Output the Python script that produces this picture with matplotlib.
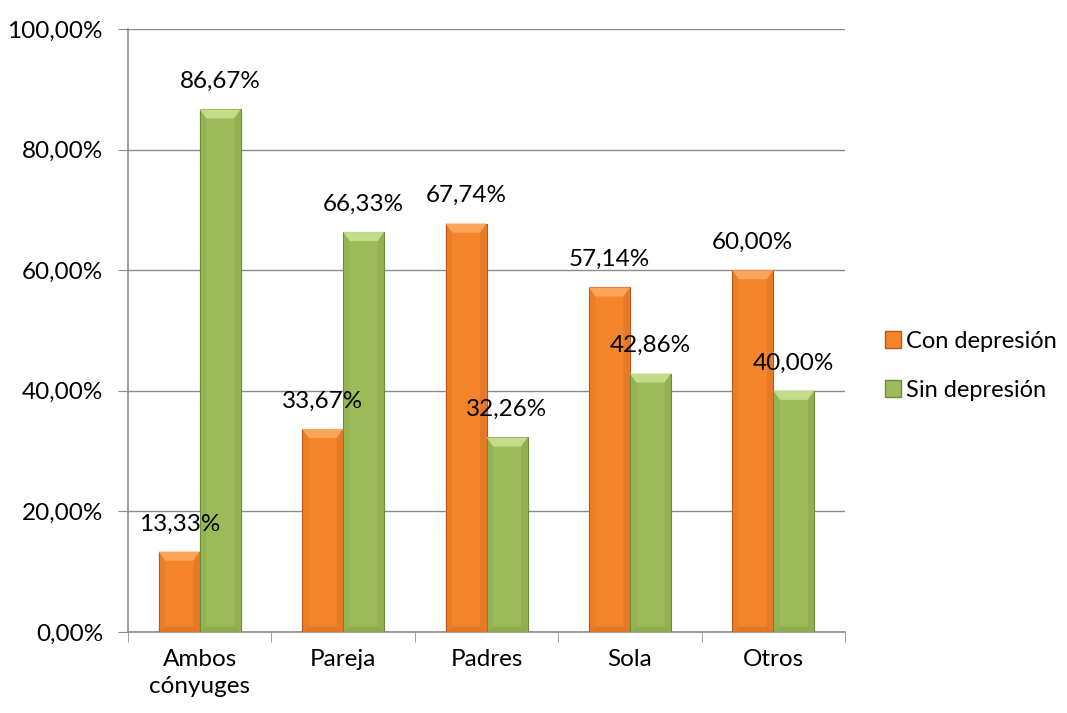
import matplotlib
matplotlib.use("Agg")
import matplotlib.pyplot as plt
import numpy as np
from matplotlib.patches import Polygon, Patch

categories = ["Ambos\ncónyuges", "Pareja", "Padres", "Sola", "Otros"]
con_depresion = [13.33, 33.67, 67.74, 57.14, 60.00]
sin_depresion = [86.67, 66.33, 32.26, 42.86, 40.00]
series_names = ["Con depresión", "Sin depresión"]
y_ticks = [0, 20, 40, 60, 80, 100]

plt.rcParams['font.family'] = ['Lato', 'DejaVu Sans']
FS = 17.5

fig = plt.figure(figsize=(10.67, 7.13), dpi=100)
ax = fig.add_axes([0.120, 0.1136, 0.672, 0.8457])

x = np.arange(len(categories))
w = 0.286
colors = [("#F4852A", "#B9571A", "#F9A65C"), ("#9BBB59", "#6E8B37", "#C4DC8A")]

for vals, offset, (fc, ec, hc) in zip([con_depresion, sin_depresion], [-w / 2, w / 2], colors):
    bars = ax.bar(x + offset, vals, width=w, color=fc, edgecolor=ec, linewidth=0.8, zorder=3)
    for b, v in zip(bars, vals):
        x0, x1 = b.get_x(), b.get_x() + b.get_width()
        top = b.get_height()
        bev_w = b.get_width() * 0.16
        bev_h = 1.5
        ax.add_patch(Polygon([[x0, top], [x1, top], [x1 - bev_w, top - bev_h], [x0 + bev_w, top - bev_h]],
                             closed=True, facecolor=hc, edgecolor='none', zorder=4))
        ax.add_patch(Polygon([[x0, 0], [x0, top], [x0 + bev_w, top - bev_h], [x0 + bev_w, bev_h * 0.6]],
                             closed=True, facecolor=ec, alpha=0.15, edgecolor='none', zorder=4))
        ax.add_patch(Polygon([[x1, 0], [x1, top], [x1 - bev_w, top - bev_h], [x1 - bev_w, bev_h * 0.6]],
                             closed=True, facecolor=ec, alpha=0.22, edgecolor='none', zorder=4))
        ax.add_patch(Polygon([[x0, 0], [x1, 0], [x1 - bev_w, bev_h * 0.6], [x0 + bev_w, bev_h * 0.6]],
                             closed=True, facecolor=ec, alpha=0.3, edgecolor='none', zorder=4))
        ax.annotate(f"{v:.2f}%".replace(".", ","), (b.get_x() + b.get_width() / 2, top),
                    xytext=(0, 20), textcoords="offset points", ha="center", va="center",
                    fontsize=FS, color="black", zorder=5)

ax.set_xlim(-0.5, len(categories) - 0.5)
ax.set_ylim(0, 100)
ax.set_yticks(y_ticks)
ax.set_yticklabels([f"{t:.2f}%".replace(".", ",") for t in y_ticks], fontsize=FS)
ax.yaxis.grid(True, color="#8C8C8C", linewidth=1.0, zorder=0)
ax.set_axisbelow(True)

ax.set_xticks(x)
ax.set_xticklabels(categories, fontsize=FS, linespacing=1.4)
ax.set_xticks(np.arange(len(categories) + 1) - 0.5, minor=True)
ax.tick_params(axis='x', which='major', length=0, pad=12)
ax.tick_params(axis='x', which='minor', length=7, color="#8C8C8C", direction='out')
ax.tick_params(axis='y', length=7, color="#8C8C8C", direction='out', pad=11)

for s in ["top", "right"]:
    ax.spines[s].set_visible(False)
for s in ["left", "bottom"]:
    ax.spines[s].set_color("#8C8C8C")
    ax.spines[s].set_linewidth(1.2)

handles = [Patch(facecolor=colors[0][0], edgecolor=colors[0][1]),
           Patch(facecolor=colors[1][0], edgecolor=colors[1][1])]
fig.legend(handles, series_names, loc="center left", bbox_to_anchor=(0.829, 0.487),
           frameon=False, fontsize=17, handlelength=0.7, handleheight=0.7,
           handletextpad=0.2, labelspacing=1.2, borderpad=0, borderaxespad=0)

fig.savefig("out.png", dpi=100)
